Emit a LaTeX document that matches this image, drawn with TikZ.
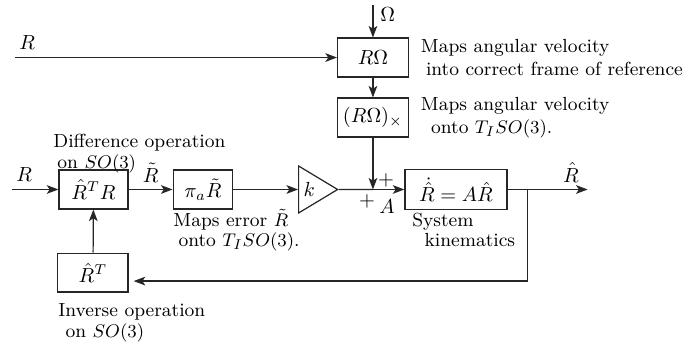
\documentclass[tikz,border=0pt]{standalone}
\usepackage{amsmath}
\usepackage{amssymb}
\usepackage{tikz}
\usetikzlibrary{arrows.meta, positioning, calc, shapes.geometric}

\begin{document}
\begin{tikzpicture}[
    >={Stealth[length=2mm, width=1.5mm, inset=0.5mm]},
    every node/.style={font=\normalsize},
    line/.style={line width=0.6pt, draw=black!85},
    block/.style={draw=black!85, line width=0.6pt, minimum height=0.67cm, inner sep=2pt},
    note/.style={align=left, inner sep=0pt, anchor=west, font=\fontsize{9.3}{11}\selectfont},
]
    \useasboundingbox (0,0) rectangle (11.845,5.897);

    % Blocks
    \node[block, minimum width=1.22cm] (rw) at (6.43,4.905) {$R\Omega$};
    \node[block, minimum width=1.22cm] (rwx) at (6.43,3.871) {$(R\Omega)_\times$};
    \node[block, minimum width=1.19cm] (diff) at (1.612,2.63) {$\hat{R}^T R$};
    \node[block, minimum width=1.03cm] (proj) at (3.50,2.63) {$\pi_a \tilde{R}$};
    \node[draw=black!85, line width=0.6pt, isosceles triangle, isosceles triangle stretches,
          minimum width=0.81cm, minimum height=0.672cm, inner sep=1pt, anchor=west] (gain) at (5.138,2.63) {$k$\hspace{6pt}};
    \node[block, minimum width=1.76cm, minimum height=0.69cm] (sys) at (7.862,2.63) {$\dot{\hat{R}} = A\hat{R}$};
    \node[block, minimum width=1.21cm] (inv) at (1.603,1.198) {$\hat{R}^T$};

    % Free ends
    \coordinate (win) at (6.43,5.81);
    \coordinate (rin1) at (0.259,4.905);
    \coordinate (rin2) at (0.207,2.63);
    \coordinate (sum) at (rwx.south |- diff.center);
    \coordinate[right=0.345cm of sys.east] (branch);
    \coordinate[right=1.379cm of sys.east] (rout);

    % Connectors
    \draw[line, ->] (win) -- (rw.north) node[pos=0.3, right] (lblw) {$\Omega$};
    \draw[line, ->] (rin1) -- (rw.west);
    \node[above right=0.02cm and -0.05cm of rin1] (lblr1) {$R$};
    \draw[line, ->] (rw) -- (rwx);
    \draw[line, ->] (rwx.south) -- (sum);
    \draw[line, ->] (rin2) -- (diff.west);
    \node[above right=0.02cm and -0.05cm of rin2] (lblr2) {$R$};
    \draw[line, ->] (diff) -- (proj) node[midway, above] (lblrt) {$\tilde{R}$};
    \draw[line, ->] (proj) -- (gain.west);
    \draw[line] (gain.apex) -- (sum);
    \draw[line, ->] (sum) -- (sys.west);
    \draw[line, ->] (sys.east) -- (rout) node[pos=0.79, above] (lblrh) {$\hat{R}$};
    \draw[line, ->] (branch) |- ($(inv.east)+(0.086,-0.147)$);
    \draw[line, ->] (inv) -- (diff);

    % Sum signs
    \node (plus1) at ($(sum)+(0.224,0.155)$) {$+$};
    \node (plus2) at ($(sum)+(-0.103,-0.207)$) {$+$};
    \node (lbla) at ($(sum)+(0.241,-0.293)$) {$A$};

    % Notes
    \node[note, right=0.2cm of rw.east] (note1) {Maps angular velocity\\\hspace{2.5pt}into correct frame of reference};
    \node[note, right=0.2cm of rwx.east] (note2) {Maps angular velocity\\\hspace{5pt}onto $T_I SO(3)$.};
    \node[note] (note3) at (0.914,3.25) {Difference operation\\[-1pt]\hspace{2pt}on $SO(3)$};
    \node[note] (note4) at (2.983,1.93) {Maps error $\tilde{R}$\\[-1pt]\hspace{2.5pt}onto $T_I SO(3)$.};
    \node[note] (note5) at (7.103,1.931) {System\\[-1pt]\hspace{6pt}kinematics};
    \node[note] (note6) at (1.0,0.33) {Inverse operation\\[-1pt]\hspace{3.5pt}on $SO(3)$};
\end{tikzpicture}
\end{document}
